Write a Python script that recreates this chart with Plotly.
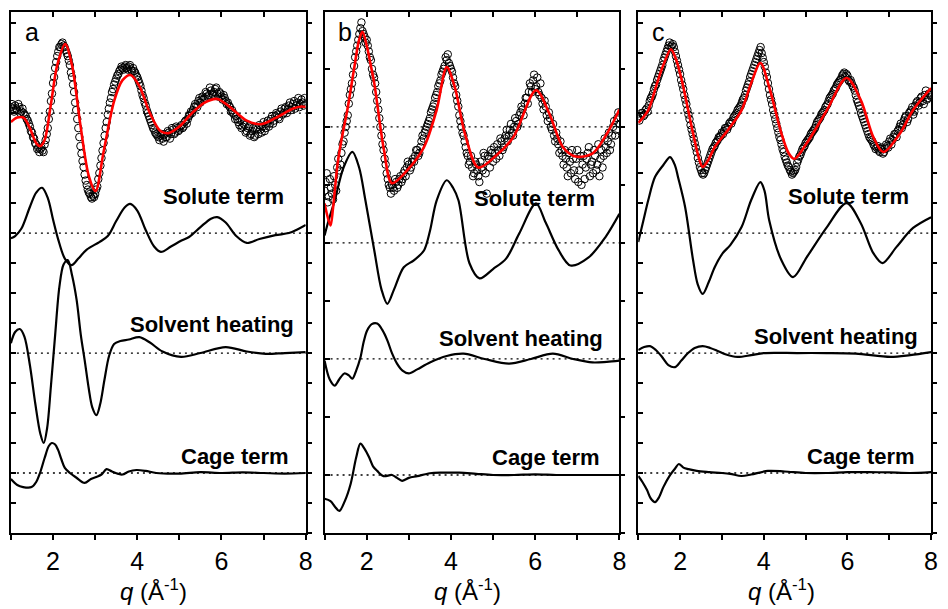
import plotly.graph_objects as go

# ---------------------------------------------------------------- data
# scattering vector grids (1/Angstrom) of the measured difference signal
q = [1.00, 1.05, 1.10, 1.15, 1.20, 1.25, 1.30, 1.35, 1.40, 1.45, 1.50, 1.55, 1.60, 1.65, 1.70, 1.75, 1.80, 1.85, 1.90, 1.95,
     2.00, 2.05, 2.10, 2.15, 2.20, 2.25, 2.30, 2.35, 2.40, 2.45, 2.50, 2.55, 2.60, 2.65, 2.70, 2.75, 2.80, 2.85, 2.90, 2.95,
     3.00, 3.05, 3.10, 3.15, 3.20, 3.25, 3.30, 3.35, 3.40, 3.45, 3.50, 3.55, 3.60, 3.65, 3.70, 3.75, 3.80, 3.85, 3.90, 3.95,
     4.00, 4.05, 4.10, 4.15, 4.20, 4.25, 4.30, 4.35, 4.40, 4.45, 4.50, 4.55, 4.60, 4.65, 4.70, 4.75, 4.80, 4.85, 4.90, 4.95,
     5.00, 5.05, 5.10, 5.15, 5.20, 5.25, 5.30, 5.35, 5.40, 5.45, 5.50, 5.55, 5.60, 5.65, 5.70, 5.75, 5.80, 5.85, 5.90, 5.95,
     6.00, 6.05, 6.10, 6.15, 6.20, 6.25, 6.30, 6.35, 6.40, 6.45, 6.50, 6.55, 6.60, 6.65, 6.70, 6.75, 6.80, 6.85, 6.90, 6.95,
     7.00, 7.05, 7.10, 7.15, 7.20, 7.25, 7.30, 7.35, 7.40, 7.45, 7.50, 7.55, 7.60, 7.65, 7.70, 7.75, 7.80, 7.85, 7.90, 7.95,
     8.00]

q_mid = [1.025, 1.075, 1.125, 1.175, 1.225, 1.275, 1.325, 1.375, 1.425, 1.475, 1.525, 1.575, 1.625, 1.675, 1.725, 1.775, 1.825, 1.875, 1.925, 1.975,
         2.025, 2.075, 2.125, 2.175, 2.225, 2.275, 2.325, 2.375, 2.425, 2.475, 2.525, 2.575, 2.625, 2.675, 2.725, 2.775, 2.825, 2.875, 2.925, 2.975,
         3.025, 3.075, 3.125, 3.175, 3.225, 3.275, 3.325, 3.375, 3.425, 3.475, 3.525, 3.575, 3.625, 3.675, 3.725, 3.775, 3.825, 3.875, 3.925, 3.975,
         4.025, 4.075, 4.125, 4.175, 4.225, 4.275, 4.325, 4.375, 4.425, 4.475, 4.525, 4.575, 4.625, 4.675, 4.725, 4.775, 4.825, 4.875, 4.925, 4.975,
         5.025, 5.075, 5.125, 5.175, 5.225, 5.275, 5.325, 5.375, 5.425, 5.475, 5.525, 5.575, 5.625, 5.675, 5.725, 5.775, 5.825, 5.875, 5.925, 5.975,
         6.025, 6.075, 6.125, 6.175, 6.225, 6.275, 6.325, 6.375, 6.425, 6.475, 6.525, 6.575, 6.625, 6.675, 6.725, 6.775, 6.825, 6.875, 6.925, 6.975,
         7.025, 7.075, 7.125, 7.175, 7.225, 7.275, 7.325, 7.375, 7.425, 7.475, 7.525, 7.575, 7.625, 7.675, 7.725, 7.775, 7.825, 7.875, 7.925, 7.975]

# measured signal (offset for display), on q and q_mid
exp_a = [14.2, 14.15, 14.25, 14.1, 14.2, 14.05, 14.0, 13.9, 13.75, 13.55, 13.35, 13.15, 12.95, 12.85, 12.8, 12.75, 12.95, 13.3, 13.8, 14.4,
         15.0, 15.5, 15.9, 16.2, 16.3, 16.25, 16.1, 15.9, 15.6, 15.2, 14.7, 14.1, 13.5, 12.9, 12.4, 11.95, 11.6, 11.35, 11.2, 11.25,
         11.3, 11.55, 12.0, 12.5, 13.0, 13.5, 13.95, 14.35, 14.7, 14.95, 15.15, 15.3, 15.45, 15.5, 15.55, 15.5, 15.55, 15.45, 15.5, 15.35,
         15.2, 15.0, 14.75, 14.5, 14.25, 14.0, 13.8, 13.6, 13.45, 13.3, 13.2, 13.25, 13.15, 13.3, 13.2, 13.35, 13.3, 13.45, 13.35, 13.5,
         13.45, 13.6, 13.55, 13.75, 13.8, 13.95, 14.0, 14.2, 14.25, 14.4, 14.35, 14.55, 14.5, 14.65, 14.6, 14.75, 14.6, 14.8, 14.65, 14.7,
         14.55, 14.6, 14.4, 14.35, 14.2, 14.1, 13.95, 13.9, 13.7, 13.75, 13.55, 13.6, 13.4, 13.55, 13.3, 13.5, 13.25, 13.45, 13.6, 13.35,
         13.7, 13.5, 13.75, 13.65, 13.9, 13.75, 14.0, 13.85, 14.05, 13.95, 14.15, 14.0, 14.25, 14.1, 14.3, 14.15, 14.35, 14.2, 14.45, 14.25,
         14.3]
exp_a_mid = [14.3, 14.05, 14.15, 14.3, 14.0, 14.15, 13.95, 13.8, 13.65, 13.4, 13.2, 13.0, 12.8, 12.7, 12.85, 12.7, 13.1, 13.5, 14.05, 14.65,
             15.2, 15.7, 16.05, 16.2, 16.35, 16.2, 16.0, 15.75, 15.35, 14.95, 14.35, 13.8, 13.2, 12.65, 12.2, 11.75, 11.45, 11.3, 11.15, 11.2,
             11.45, 11.8, 12.25, 12.75, 13.25, 13.7, 14.15, 14.5, 14.8, 15.05, 15.25, 15.4, 15.55, 15.45, 15.6, 15.45, 15.6, 15.4, 15.4, 15.25,
             15.1, 14.9, 14.6, 14.35, 14.1, 13.9, 13.7, 13.5, 13.35, 13.25, 13.1, 13.3, 13.05, 13.2, 13.4, 13.15, 13.5, 13.3, 13.55, 13.4,
             13.55, 13.5, 13.7, 13.65, 13.9, 14.05, 14.1, 14.3, 14.2, 14.5, 14.45, 14.45, 14.7, 14.55, 14.85, 14.65, 14.7, 14.85, 14.55, 14.65,
             14.45, 14.5, 14.3, 14.25, 14.05, 14.0, 13.8, 13.8, 13.6, 13.5, 13.65, 13.35, 13.5, 13.25, 13.4, 13.2, 13.5, 13.3, 13.45, 13.55,
             13.4, 13.65, 13.55, 13.8, 13.65, 13.9, 13.95, 13.8, 14.15, 14.0, 14.2, 14.1, 14.35, 14.2, 14.4, 14.25, 14.5, 14.3, 14.35, 14.5]

exp_b = [5.9, 6.2, 5.8, 5.95, 5.75, 6.0, 6.3, 6.25, 6.55, 6.75, 7.0, 7.2, 7.55, 7.75, 8.05, 8.3, 8.5, 8.7, 8.65, 8.55,
         8.5, 8.3, 8.15, 7.9, 7.75, 7.45, 7.15, 6.85, 6.6, 6.35, 6.1, 5.95, 6.0, 5.9, 6.05, 6.0, 6.15, 6.1, 6.25, 6.3,
         6.35, 6.3, 6.45, 6.5, 6.6, 6.55, 6.75, 6.8, 6.95, 7.05, 7.15, 7.3, 7.4, 7.55, 7.7, 7.8, 7.95, 8.05, 8.15, 8.1,
         8.0, 7.85, 7.7, 7.45, 7.2, 7.0, 6.85, 6.65, 6.5, 6.4, 6.3, 6.2, 6.35, 6.15, 6.4, 6.25, 6.5, 5.85, 6.45, 6.6,
         6.4, 6.55, 6.7, 6.5, 6.75, 6.65, 6.85, 6.75, 6.95, 6.9, 7.0, 7.1, 7.05, 7.25, 7.3, 7.4, 7.5, 7.6, 7.7, 7.8,
         7.65, 7.85, 7.55, 7.5, 7.3, 7.35, 7.1, 7.15, 6.95, 6.85, 6.9, 6.7, 6.75, 6.5, 6.6, 6.3, 6.55, 6.2, 6.45, 6.1,
         6.6, 6.25, 6.0, 6.5, 6.3, 6.55, 6.15, 6.4, 6.6, 6.25, 6.7, 6.45, 6.3, 6.8, 6.55, 6.9, 6.7, 7.0, 6.85, 7.15,
         7.05]
exp_b_mid = [6.05, 5.7, 6.1, 5.85, 6.15, 5.9, 6.45, 6.35, 6.7, 6.9, 7.1, 7.4, 7.65, 7.9, 8.2, 8.4, 8.6, 8.8, 8.6, 8.45,
             8.4, 8.2, 8.0, 7.85, 7.6, 7.3, 7.0, 6.7, 6.45, 6.2, 6.0, 5.85, 5.95, 6.1, 5.95, 6.1, 6.05, 6.2, 6.15, 6.4,
             6.25, 6.4, 6.4, 6.6, 6.5, 6.65, 6.85, 6.9, 7.0, 7.1, 7.25, 7.35, 7.5, 7.6, 7.75, 7.9, 8.0, 8.2, 8.25, 8.05,
             7.95, 7.75, 7.55, 7.35, 7.1, 6.9, 6.75, 6.55, 6.35, 6.5, 6.15, 6.4, 6.25, 6.05, 6.3, 6.55, 6.2, 6.5, 6.3, 6.55,
             6.65, 6.45, 6.6, 6.8, 6.6, 6.8, 6.95, 6.85, 7.05, 6.85, 7.15, 7.0, 7.2, 7.35, 7.2, 7.5, 7.4, 7.75, 7.6, 7.9,
             7.7, 7.6, 7.75, 7.4, 7.45, 7.2, 7.25, 7.0, 7.05, 6.75, 6.8, 6.55, 6.6, 6.35, 6.45, 6.15, 6.4, 6.6, 6.25, 6.45,
             6.05, 6.5, 6.35, 6.1, 6.45, 6.65, 6.35, 6.2, 6.5, 6.35, 6.15, 6.6, 6.5, 6.65, 6.75, 6.6, 6.85, 7.1, 6.95, 7.25]

exp_c = [13.85, 13.9, 14.0, 13.95, 14.15, 14.25, 14.5, 14.65, 14.9, 15.1, 15.3, 15.5, 15.75, 15.95, 16.15, 16.35, 16.25, 16.2, 15.9, 15.6,
         15.3, 14.95, 14.6, 14.3, 13.95, 13.6, 13.3, 13.0, 12.7, 12.35, 12.1, 11.95, 12.1, 12.3, 12.5, 12.7, 12.85, 13.0, 13.1, 13.2,
         13.35, 13.4, 13.5, 13.55, 13.7, 13.75, 13.9, 14.0, 14.15, 14.25, 14.45, 14.6, 14.85, 15.05, 15.3, 15.5, 15.7, 15.9, 16.1, 16.0,
         15.7, 15.35, 15.0, 14.6, 14.3, 13.95, 13.65, 13.35, 13.1, 12.8, 12.55, 12.35, 12.2, 12.05, 12.0, 12.1, 12.35, 12.55, 12.7, 12.85,
         13.0, 13.1, 13.2, 13.35, 13.45, 13.6, 13.75, 13.85, 14.0, 14.1, 14.25, 14.4, 14.55, 14.65, 14.8, 14.95, 15.05, 15.15, 15.3, 15.2,
         15.25, 15.05, 15.0, 14.85, 14.6, 14.35, 14.15, 13.9, 13.7, 13.5, 13.3, 13.15, 13.05, 12.9, 12.85, 12.75, 12.8, 12.65, 12.8, 12.9,
         13.05, 12.95, 13.2, 13.3, 13.4, 13.55, 13.5, 13.75, 13.9, 13.8, 14.05, 14.2, 14.05, 14.35, 14.25, 14.5, 14.4, 14.6, 14.45, 14.65,
         14.55]
exp_c_mid = [13.75, 14.0, 13.9, 14.1, 14.05, 14.4, 14.55, 14.8, 14.95, 15.2, 15.4, 15.6, 15.85, 16.05, 16.25, 16.2, 16.3, 16.05, 15.75, 15.45,
             15.1, 14.8, 14.45, 14.1, 13.8, 13.45, 13.15, 12.85, 12.5, 12.2, 12.0, 12.0, 12.2, 12.4, 12.6, 12.8, 12.9, 13.05, 13.2, 13.25,
             13.3, 13.5, 13.45, 13.65, 13.65, 13.85, 13.95, 14.1, 14.2, 14.35, 14.5, 14.75, 14.95, 15.2, 15.4, 15.6, 15.8, 16.0, 16.2, 15.85,
             15.55, 15.2, 14.8, 14.45, 14.1, 13.8, 13.5, 13.2, 12.95, 12.7, 12.45, 12.25, 12.1, 11.95, 12.05, 12.2, 12.45, 12.6, 12.8, 12.9,
             13.05, 13.15, 13.3, 13.4, 13.5, 13.7, 13.8, 13.95, 14.05, 14.2, 14.3, 14.5, 14.6, 14.75, 14.85, 15.0, 15.1, 15.25, 15.35, 15.3,
             15.1, 15.1, 14.9, 14.75, 14.45, 14.25, 14.0, 13.8, 13.6, 13.4, 13.2, 13.1, 12.95, 12.8, 12.9, 12.7, 12.85, 12.7, 12.95, 12.85,
             13.15, 13.1, 13.3, 13.2, 13.45, 13.65, 13.6, 13.85, 13.7, 14.0, 14.1, 13.95, 14.25, 14.4, 14.35, 14.55, 14.3, 14.75, 14.5, 14.6]

# fitted model (red)
fit_a_q = [1.0, 1.15, 1.3, 1.45, 1.6, 1.7, 1.8, 1.95, 2.1, 2.29, 2.45, 2.65, 2.85, 3.01, 3.2, 3.45, 3.65, 3.84, 4.05, 4.3,
           4.55, 4.74, 5.0, 5.3, 5.6, 5.9, 6.2, 6.6, 6.94, 7.3, 7.7, 7.9, 8.0]
fit_a = [13.7, 13.85, 13.85, 13.5, 13.0, 12.9, 13.1, 14.3, 15.6, 16.3, 15.6, 13.6, 11.9, 11.4, 12.7, 14.4, 15.1, 15.27, 14.9, 14.0,
         13.4, 13.33, 13.55, 14.0, 14.35, 14.47, 14.2, 13.75, 13.63, 13.85, 14.15, 14.22, 14.2]

fit_b_q = [1.0, 1.14, 1.2, 1.31, 1.42, 1.54, 1.7, 1.82, 1.9, 2.0, 2.1, 2.18, 2.41, 2.6, 2.96, 3.36, 3.66, 3.9, 4.09, 4.33,
           4.65, 5.08, 5.48, 6.02, 6.33, 6.66, 6.96, 7.36, 7.71, 8.0]
fit_b = [5.68, 5.3, 5.6, 6.37, 6.85, 7.29, 8.0, 8.5, 8.64, 8.4, 8.05, 7.75, 6.6, 6.03, 6.25, 6.65, 7.29, 8.03, 7.69, 6.89,
         6.3, 6.51, 6.82, 7.63, 7.24, 6.65, 6.49, 6.54, 6.89, 7.3]

fit_c_q = [1.0, 1.24, 1.45, 1.6, 1.78, 1.9, 2.04, 2.31, 2.45, 2.54, 2.68, 2.83, 3.14, 3.47, 3.7, 3.92, 4.13, 4.42, 4.6, 4.73,
           5.03, 5.51, 5.98, 6.32, 6.62, 6.86, 7.26, 7.57, 8.0]
fit_c = [13.67, 14.1, 15.0, 15.6, 16.13, 15.8, 15.1, 13.33, 12.5, 12.2, 12.45, 12.87, 13.43, 14.1, 15.0, 15.67, 14.87, 13.33, 12.65, 12.47,
         13.0, 14.1, 15.17, 14.43, 13.2, 12.7, 13.33, 14.1, 14.83]

# solute term
sol_a_q = [1.0, 1.1, 1.25, 1.45, 1.6, 1.74, 1.88, 2.0, 2.12, 2.28, 2.44, 2.6, 2.8, 3.1, 3.3, 3.5, 3.7, 3.83, 4.0, 4.2,
           4.4, 4.56, 4.8, 5.05, 5.23, 5.5, 5.75, 5.9, 6.1, 6.35, 6.6, 6.9, 7.28, 7.6, 7.8, 8.0]
sol_a = [9.83, 9.9, 10.15, 10.87, 11.35, 11.51, 11.15, 10.45, 9.8, 9.15, 8.93, 9.15, 9.45, 9.7, 9.9, 10.4, 10.85, 10.97, 10.75, 10.1,
         9.55, 9.37, 9.55, 9.75, 9.87, 10.2, 10.48, 10.53, 10.35, 9.9, 9.67, 9.8, 9.93, 10.0, 10.12, 10.27]

sol_b_q = [1.0, 1.1, 1.24, 1.45, 1.66, 1.82, 1.97, 2.18, 2.35, 2.49, 2.65, 2.88, 3.12, 3.36, 3.5, 3.66, 3.9, 4.05, 4.18, 4.44,
           4.68, 5.0, 5.31, 5.62, 6.02, 6.25, 6.56, 6.84, 7.27, 7.67, 8.0]
sol_b = [5.13, 5.4, 5.73, 6.3, 6.57, 6.3, 5.73, 4.87, 4.2, 3.95, 4.2, 4.58, 4.7, 4.87, 5.2, 5.73, 6.08, 5.95, 5.73, 4.65,
         4.39, 4.55, 4.73, 5.16, 5.68, 5.35, 4.87, 4.61, 4.75, 5.1, 5.5]

sol_c_q = [1.0, 1.12, 1.24, 1.4, 1.6, 1.76, 1.88, 1.95, 2.12, 2.31, 2.42, 2.54, 2.68, 2.83, 3.02, 3.2, 3.47, 3.7, 3.92, 4.02,
           4.13, 4.42, 4.7, 5.03, 5.51, 5.98, 6.32, 6.62, 6.84, 7.17, 7.57, 8.0]
sol_c = [9.7, 10.4, 11.1, 11.87, 12.27, 12.53, 12.25, 11.87, 10.87, 9.1, 8.3, 7.97, 8.35, 8.87, 9.33, 9.6, 10.2, 11.1, 11.7, 11.4,
         10.43, 9.1, 8.53, 9.2, 10.2, 11.0, 10.33, 9.33, 9.0, 9.53, 10.17, 10.53]

# solvent heating term
hea_a_q = [1.0, 1.1, 1.21, 1.32, 1.45, 1.58, 1.7, 1.78, 1.86, 1.95, 2.05, 2.15, 2.25, 2.35, 2.45, 2.56, 2.66, 2.75, 2.85, 2.93,
           3.03, 3.12, 3.22, 3.33, 3.45, 3.6, 3.8, 4.05, 4.3, 4.6, 5.04, 5.5, 6.1, 6.6, 7.05, 7.5, 8.0]
hea_a = [6.33, 6.7, 6.8, 6.55, 5.6, 4.3, 3.3, 3.0, 3.5, 4.9, 6.6, 8.2, 8.95, 9.1, 8.6, 7.77, 6.6, 5.77, 4.8, 4.2,
         3.93, 4.3, 5.1, 5.9, 6.3, 6.4, 6.45, 6.53, 6.35, 6.05, 5.87, 6.0, 6.2, 6.05, 5.97, 6.0, 6.03]

hea_b_q = [1.0, 1.12, 1.24, 1.35, 1.47, 1.57, 1.66, 1.75, 1.85, 1.93, 2.01, 2.12, 2.25, 2.37, 2.49, 2.6, 2.72, 2.85, 3.0, 3.2,
           3.5, 3.9, 4.3, 4.8, 5.38, 5.9, 6.42, 6.9, 7.36, 7.7, 8.0]
hea_b = [2.97, 2.65, 2.54, 2.65, 2.75, 2.72, 2.66, 2.8, 3.02, 3.3, 3.49, 3.6, 3.61, 3.5, 3.32, 3.1, 2.92, 2.8, 2.75, 2.82,
         2.94, 3.05, 3.09, 3.0, 2.92, 3.0, 3.09, 3.0, 2.94, 2.95, 2.97]

hea_c_q = [1.0, 1.14, 1.28, 1.42, 1.57, 1.72, 1.88, 2.03, 2.19, 2.35, 2.54, 2.72, 2.9, 3.1, 3.37, 3.7, 4.0, 4.8, 5.5, 6.2,
           7.03, 7.5, 8.0]
hea_c = [6.1, 6.2, 6.23, 6.1, 5.87, 5.6, 5.53, 5.75, 6.0, 6.17, 6.23, 6.17, 6.07, 5.95, 5.87, 5.93, 6.0, 6.0, 6.0, 5.98,
         5.87, 5.93, 6.03]

# cage term
cag_a_q = [1.0, 1.15, 1.29, 1.49, 1.6, 1.69, 1.8, 1.9, 1.97, 2.05, 2.12, 2.2, 2.28, 2.4, 2.55, 2.75, 2.9, 3.03, 3.15, 3.27,
           3.4, 3.55, 3.65, 3.8, 3.98, 4.2, 4.45, 5.0, 5.5, 6.0, 6.5, 7.0, 7.5, 8.0]
cag_a = [1.8, 1.6, 1.53, 1.53, 1.7, 2.0, 2.5, 2.9, 3.0, 2.95, 2.77, 2.45, 2.17, 2.0, 1.85, 1.67, 1.8, 1.87, 1.95, 2.13,
         2.05, 1.97, 1.95, 2.05, 2.1, 2.07, 2.0, 1.98, 2.03, 2.0, 2.02, 2.0, 1.98, 2.0]

cag_b_q = [1.0, 1.14, 1.25, 1.35, 1.48, 1.62, 1.75, 1.85, 1.95, 2.06, 2.15, 2.25, 2.4, 2.6, 2.72, 2.84, 3.0, 3.2, 3.5, 3.8,
           4.2, 4.6, 5.0, 5.5, 6.0, 6.5, 7.0, 7.5, 8.0]
cag_b = [0.59, 0.55, 0.45, 0.38, 0.55, 0.85, 1.3, 1.54, 1.45, 1.3, 1.15, 1.07, 0.98, 1.0, 0.95, 0.9, 0.95, 0.98, 1.03, 1.04,
         1.04, 1.02, 1.0, 1.0, 1.01, 1.0, 1.0, 1.0, 1.0]

cag_c_q = [1.0, 1.1, 1.21, 1.3, 1.4, 1.5, 1.6, 1.76, 1.88, 1.97, 2.08, 2.2, 2.4, 2.7, 3.0, 3.2, 3.47, 3.7, 4.1, 4.5,
           5.0, 5.5, 6.0, 6.5, 7.0, 7.5, 8.0]
cag_c = [1.9, 1.7, 1.43, 1.15, 1.03, 1.2, 1.53, 1.93, 2.15, 2.3, 2.18, 2.13, 2.07, 2.03, 2.0, 1.97, 1.9, 1.95, 2.07, 2.05,
         2.0, 2.0, 2.03, 2.03, 2.02, 2.0, 2.03]

# display offsets (zero lines) of the four traces in each panel
offsets_a = [14, 10, 6, 2]
offsets_b = [7, 5, 3, 1]
offsets_c = [14, 10, 6, 2]

panel_letters = ["a", "b", "c"]
term_labels = ["Solute term", "Solvent heating", "Cage term"]
x_major = [2, 4, 6, 8]
x_all = [1, 2, 3, 4, 5, 6, 7, 8]
y_ranges = [[0, 17.37], [0, 8.98], [0, 17.37]]

# ---------------------------------------------------------------- layout
W, H = 948, 609
x_dom = [[11 / W, 308 / W], [327 / W, 624 / W], [643 / W, 938 / W]]
y_dom = [76 / H, 597 / H]
FONT = "Liberation Sans, Arial, sans-serif"

panels = [
    dict(exp=(exp_a, exp_a_mid), fit=(fit_a_q, fit_a), sol=(sol_a_q, sol_a), hea=(hea_a_q, hea_a), cag=(cag_a_q, cag_a), off=offsets_a),
    dict(exp=(exp_b, exp_b_mid), fit=(fit_b_q, fit_b), sol=(sol_b_q, sol_b), hea=(hea_b_q, hea_b), cag=(cag_b_q, cag_b), off=offsets_b),
    dict(exp=(exp_c, exp_c_mid), fit=(fit_c_q, fit_c), sol=(sol_c_q, sol_c), hea=(hea_c_q, hea_c), cag=(cag_c_q, cag_c), off=offsets_c),
]

fig = go.Figure()
layout = dict(
    width=W, height=H, margin=dict(l=0, r=0, t=0, b=0),
    paper_bgcolor="white", plot_bgcolor="white", showlegend=False,
    font=dict(family=FONT, color="black"),
)
annotations = []

for i, p in enumerate(panels):
    n = i + 1
    xa = "x" if n == 1 else f"x{n}"
    ya = "y" if n == 1 else f"y{n}"
    xtop = f"x{n + 3}"
    yright = f"y{n + 3}"

    # dotted zero lines
    for off in p["off"]:
        fig.add_trace(go.Scatter(x=[1, 8], y=[off, off], mode="lines", xaxis=xa, yaxis=ya,
                                 line=dict(color="black", width=1.3, dash="2px,4px"), hoverinfo="skip"))
    # component curves
    for key in ("sol", "hea", "cag"):
        qq, vv = p[key]
        fig.add_trace(go.Scatter(x=qq, y=vv, mode="lines", xaxis=xa, yaxis=ya,
                                 line=dict(color="black", width=2.2, shape="spline", smoothing=0.9)))
    # measured points
    for qq, vv in ((q, p["exp"][0]), (q_mid, p["exp"][1])):
        fig.add_trace(go.Scatter(x=qq, y=vv, mode="markers", xaxis=xa, yaxis=ya,
                                 marker=dict(symbol="circle-open", size=7.5, color="black", line=dict(width=1))))
    # fit
    qq, vv = p["fit"]
    fig.add_trace(go.Scatter(x=qq, y=vv, mode="lines", xaxis=xa, yaxis=ya,
                             line=dict(color="#ff0000", width=2.6, shape="spline", smoothing=0.9)))
    # placeholders so the top / right tick axes are drawn
    fig.add_trace(go.Scatter(x=[None], y=[None], xaxis=xtop, yaxis=ya, hoverinfo="skip"))
    fig.add_trace(go.Scatter(x=[None], y=[None], xaxis=xa, yaxis=yright, hoverinfo="skip"))

    xkey = "xaxis" if n == 1 else f"xaxis{n}"
    ykey = "yaxis" if n == 1 else f"yaxis{n}"
    layout[xkey] = dict(
        domain=x_dom[i], range=[1, 8], anchor=ya, showgrid=False, zeroline=False,
        showline=True, linecolor="black", linewidth=2, mirror=True,
        tickmode="array", tickvals=x_major,
        ticks="outside", ticklen=5, tickwidth=1.5, tickcolor="black",
        minor=dict(tickmode="linear", tick0=1, dtick=1, ticks="outside", ticklen=5,
                   tickwidth=1.5, tickcolor="black", showgrid=False),
        tickfont=dict(size=25, family=FONT, color="black"),
    )
    layout[ykey] = dict(
        domain=y_dom, range=y_ranges[i], anchor=xa, showgrid=False, zeroline=False,
        showline=True, linecolor="black", linewidth=2, mirror=True,
        dtick=1, tick0=0, ticks="inside", ticklen=5, tickwidth=1.5, tickcolor="black",
        showticklabels=False,
    )
    layout[f"xaxis{n + 3}"] = dict(
        overlaying=xa, anchor=ya, side="top", range=[1, 8], showgrid=False, zeroline=False,
        showline=False, tickmode="array", tickvals=x_all,
        ticks="inside", ticklen=5, tickwidth=1.5, tickcolor="black", showticklabels=False,
    )
    layout[f"yaxis{n + 3}"] = dict(
        overlaying=ya, anchor=xa, side="right", range=y_ranges[i], showgrid=False, zeroline=False,
        showline=False, dtick=1, tick0=0,
        ticks="outside", ticklen=5, tickwidth=1.5, tickcolor="black", showticklabels=False,
    )

    # panel letter
    annotations.append(dict(text=panel_letters[i], xref="paper", yref="paper",
                            x=(x_dom[i][0] * W + 12) / W, y=1 - 32 / H, xanchor="left", yanchor="middle",
                            showarrow=False, font=dict(size=25, family=FONT, color="black")))
    # axis title
    annotations.append(dict(text="<i>q</i> (Å<sup>-1</sup>)", xref="paper", yref="paper",
                            x=(x_dom[i][0] * W + 144) / W, y=1 - 590 / H, xanchor="center", yanchor="middle",
                            showarrow=False, font=dict(size=24, family=FONT, color="black")))

# term labels, right-aligned near the right edge of each panel (pixel positions in figure)
term_px = [
    [(288, 196), (298, 324), (293, 456)],
    [(601, 198), (610, 338), (606, 457)],
    [(918, 196), (927, 336), (924, 456)],
]
for i in range(3):
    for j, txt in enumerate(term_labels):
        xr, yc = term_px[i][j]
        annotations.append(dict(text=f"<b>{txt}</b>", xref="paper", yref="paper",
                                x=xr / W, y=1 - yc / H, xanchor="right", yanchor="middle",
                                showarrow=False, font=dict(size=22, family=FONT, color="black")))

layout["annotations"] = annotations
fig.update_layout(**layout)
fig.write_html("out.html")
